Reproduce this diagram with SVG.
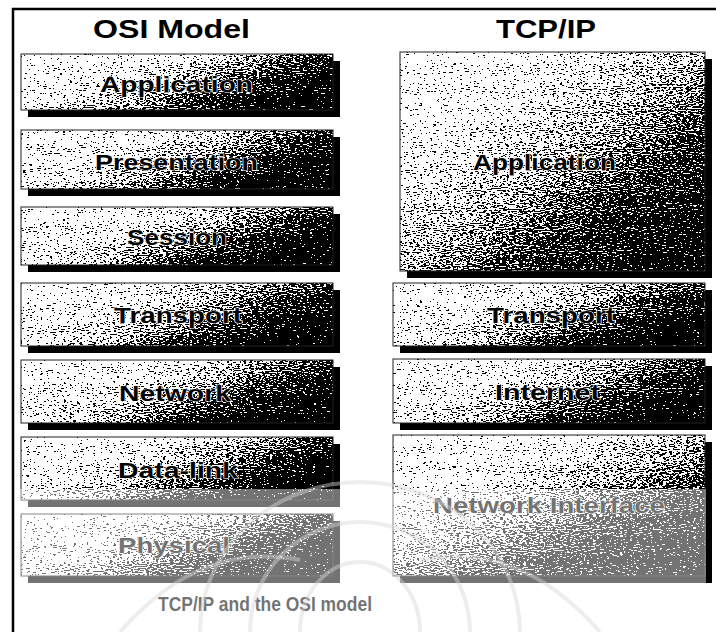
<svg xmlns="http://www.w3.org/2000/svg" width="716" height="632" viewBox="0 0 716 632">
<defs>
<linearGradient id="shade" x1="0" y1="0" x2="1" y2="0.5">
<stop offset="0" stop-color="#f2f2f2"/>
<stop offset="0.4" stop-color="#d8d8d8"/>
<stop offset="0.6" stop-color="#a0a0a0"/>
<stop offset="0.8" stop-color="#484848"/>
<stop offset="1" stop-color="#0c0c0c"/>
</linearGradient>
<linearGradient id="shadeBig" x1="0" y1="0" x2="1" y2="1">
<stop offset="0" stop-color="#f4f4f4"/>
<stop offset="0.3" stop-color="#dcdcdc"/>
<stop offset="0.5" stop-color="#a0a0a0"/>
<stop offset="0.7" stop-color="#444444"/>
<stop offset="1" stop-color="#080808"/>
</linearGradient>
<filter id="grain" x="0" y="0" width="1" height="1" color-interpolation-filters="sRGB">
<feTurbulence type="fractalNoise" baseFrequency="0.3 0.95" numOctaves="3" seed="5" result="n"/>
<feColorMatrix in="n" type="matrix" values="1 0 0 0 0 1 0 0 0 0 1 0 0 0 0 0 0 0 0 1" result="g"/>
<feComposite in="SourceGraphic" in2="g" operator="arithmetic" k1="0" k2="1" k3="2.1" k4="-1.05" result="sum"/>
<feComponentTransfer in="sum">
<feFuncR type="discrete" tableValues="0 1"/>
<feFuncG type="discrete" tableValues="0 1"/>
<feFuncB type="discrete" tableValues="0 1"/>
<feFuncA type="linear" slope="0" intercept="1"/>
</feComponentTransfer>
</filter>
</defs>
<style>
.frame{stroke:#000;stroke-width:2.5;fill:none}
.shadow{fill:#000}
.box{fill:url(#shade);filter:url(#grain)}
.big{fill:url(#shadeBig)}
.edge{fill:none;stroke:#222;stroke-width:1}
.title{font-family:"Liberation Sans",Arial,sans-serif;font-weight:bold;font-size:26px;fill:#000}
.lbl{font-family:"Liberation Sans",Arial,sans-serif;font-weight:bold;font-size:22px;fill:#000;stroke:#fff;stroke-width:1.2;paint-order:stroke}
.cap{font-family:"Liberation Sans",Arial,sans-serif;font-weight:bold;font-size:21px;fill:#000}
.wm{fill:none;stroke:#d8d8d8;stroke-width:4;opacity:0.45}
.veil{fill:#fff;opacity:0.45}
</style>
<rect width="716" height="632" fill="#fff"/>
<g id="frame">
<path class="frame" d="M13,632 V9 H716"/>
</g>
<g id="title-osi"><text class="title" x="93" y="38" textLength="157" lengthAdjust="spacingAndGlyphs">OSI Model</text></g>
<g id="title-tcpip"><text class="title" x="496" y="38" textLength="100" lengthAdjust="spacingAndGlyphs">TCP/IP</text></g>

<g id="osi-application">
<rect class="shadow" x="28" y="61" width="312" height="56"/>
<rect class="box" x="21" y="54" width="312" height="56"/>
<rect class="edge" x="21" y="54" width="312" height="56"/>
<text class="lbl" x="100" y="92" textLength="153" lengthAdjust="spacingAndGlyphs">Application</text>
</g>
<g id="osi-presentation">
<rect class="shadow" x="28" y="137" width="312" height="59"/>
<rect class="box" x="21" y="130" width="312" height="59"/>
<rect class="edge" x="21" y="130" width="312" height="59"/>
<text class="lbl" x="95" y="170" textLength="163" lengthAdjust="spacingAndGlyphs">Presentation</text>
</g>
<g id="osi-session">
<rect class="shadow" x="28" y="214" width="312" height="58"/>
<rect class="box" x="21" y="207" width="312" height="58"/>
<rect class="edge" x="21" y="207" width="312" height="58"/>
<text class="lbl" x="127" y="245" textLength="100" lengthAdjust="spacingAndGlyphs">Session</text>
</g>
<g id="osi-transport">
<rect class="shadow" x="28" y="290" width="312" height="63"/>
<rect class="box" x="21" y="283" width="312" height="63"/>
<rect class="edge" x="21" y="283" width="312" height="63"/>
<text class="lbl" x="114" y="323" textLength="128" lengthAdjust="spacingAndGlyphs">Transport</text>
</g>
<g id="osi-network">
<rect class="shadow" x="28" y="367" width="312" height="63"/>
<rect class="box" x="21" y="360" width="312" height="63"/>
<rect class="edge" x="21" y="360" width="312" height="63"/>
<text class="lbl" x="119" y="401" textLength="112" lengthAdjust="spacingAndGlyphs">Network</text>
</g>
<g id="osi-datalink">
<rect class="shadow" x="28" y="444" width="312" height="63"/>
<rect class="box" x="21" y="437" width="312" height="63"/>
<rect class="edge" x="21" y="437" width="312" height="63"/>
<text class="lbl" x="118" y="478" textLength="120" lengthAdjust="spacingAndGlyphs">Data-link</text>
</g>
<g id="osi-physical">
<rect class="shadow" x="28" y="521" width="312" height="62"/>
<rect class="box" x="21" y="514" width="312" height="62"/>
<rect class="edge" x="21" y="514" width="312" height="62"/>
<text class="lbl" x="118" y="553" textLength="112" lengthAdjust="spacingAndGlyphs">Physical</text>
</g>

<g id="tcp-application">
<rect class="shadow" x="407" y="59" width="305" height="219"/>
<rect class="box big" x="400" y="52" width="305" height="219"/>
<rect class="edge" x="400" y="52" width="305" height="219"/>
<text class="lbl" x="473" y="170" textLength="143" lengthAdjust="spacingAndGlyphs">Application</text>
</g>
<g id="tcp-transport">
<rect class="shadow" x="400" y="290" width="312" height="63"/>
<rect class="box" x="393" y="283" width="312" height="63"/>
<rect class="edge" x="393" y="283" width="312" height="63"/>
<text class="lbl" x="487" y="323" textLength="128" lengthAdjust="spacingAndGlyphs">Transport</text>
</g>
<g id="tcp-internet">
<rect class="shadow" x="400" y="366" width="312" height="64"/>
<rect class="box" x="393" y="359" width="312" height="64"/>
<rect class="edge" x="393" y="359" width="312" height="64"/>
<text class="lbl" x="495" y="400" textLength="105" lengthAdjust="spacingAndGlyphs">Internet</text>
</g>
<g id="tcp-network-interface">
<rect class="shadow" x="400" y="442" width="312" height="141"/>
<rect class="box big" x="393" y="435" width="312" height="141"/>
<rect class="edge" x="393" y="435" width="312" height="141"/>
<text class="lbl" x="433" y="513" textLength="232" lengthAdjust="spacingAndGlyphs">Network Interface</text>
</g>

<g id="connectors"></g>

<g id="caption"><text class="cap" x="158" y="611" textLength="214" lengthAdjust="spacingAndGlyphs">TCP/IP and the OSI model</text></g>

<g id="watermark">
<rect class="veil" x="17" y="489" width="689" height="143"/>
<path class="wm" d="M200,632 A160,150 0 0 1 520,632"/>
<path class="wm" d="M250,632 A110,110 0 0 1 470,632"/>
<path class="wm" d="M300,632 A60,70 0 0 1 420,632"/>
<path class="wm" d="M120,632 Q200,540 300,560"/>
<path class="wm" d="M600,632 Q520,540 420,560"/>
</g>
</svg>
